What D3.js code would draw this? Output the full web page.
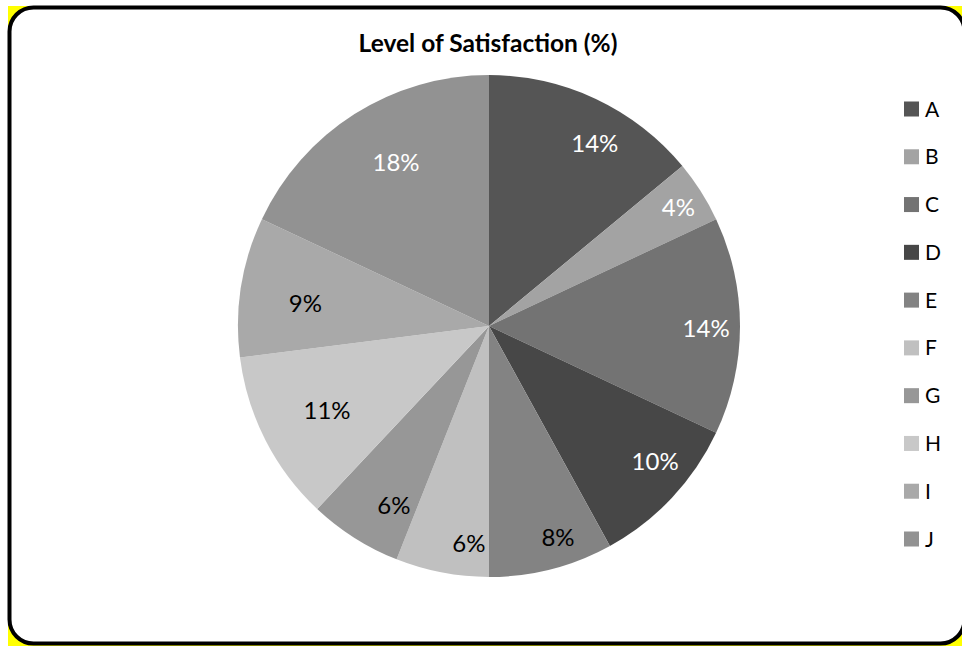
<!DOCTYPE html>
<html>
<head>
<meta charset="utf-8">
<script src="https://cdn.jsdelivr.net/npm/d3@7"></script>
<style>
  html, body { margin: 0; padding: 0; background: #ffffff; }
  svg { display: block; }
</style>
</head>
<body>
<svg id="chart" width="962" height="646"></svg>
<script>
// Satisfaction shares per category
const categories = ["A", "B", "C", "D", "E", "F", "G", "H", "I", "J"];
const values = [14, 4, 14, 10, 8, 6, 6, 11, 9, 18];
const title = "Level of Satisfaction (%)";

// Slice fills and label ink
const fills = ["#555555", "#a3a3a3", "#737373", "#474747", "#838383",
               "#c0c0c0", "#979797", "#c8c8c8", "#a9a9a9", "#929292"];
const labelInk = ["#ffffff", "#ffffff", "#ffffff", "#ffffff", "#000000",
                  "#000000", "#000000", "#000000", "#000000", "#ffffff"];

// Label placement: fraction of the radius and angular nudge (degrees)
const labelRadius = [0.84, 0.89, 0.865, 0.853, 0.885, 0.87, 0.81, 0.727, 0.737, 0.75];
const labelShift = [4.9, 0.4, 0.5, -4.1, -3.7, -5.5, -4.5, -0.4, -1.9, 2.8];

const W = 962, H = 646;
const svg = d3.select("#chart");

// Yellow backing sheet, then the rounded card with a black frame
svg.append("rect")
  .attr("x", 8).attr("y", 6)
  .attr("width", W).attr("height", H)
  .attr("fill", "#ffff00");

svg.append("rect")
  .attr("x", 9.5).attr("y", 7.5)
  .attr("width", 955).attr("height", 636)
  .attr("rx", 24).attr("ry", 24)
  .attr("fill", "#ffffff")
  .attr("stroke", "#000000")
  .attr("stroke-width", 4);

svg.append("text")
  .attr("x", 488).attr("y", 52)
  .attr("text-anchor", "middle")
  .attr("font-family", "Lato, 'Open Sans', sans-serif")
  .attr("font-weight", "bold")
  .attr("font-size", 24.5)
  .attr("fill", "#000")
  .text(title);

const cx = 489, cy = 326, R = 251;
const data = categories.map((c, i) => ({ cat: c, value: values[i], i }));

const pie = d3.pie().value(d => d.value).sort(null);
const arcs = pie(data);
const arc = d3.arc().innerRadius(0).outerRadius(R);

const g = svg.append("g").attr("transform", `translate(${cx},${cy})`);

g.selectAll("path.slice")
  .data(arcs)
  .join("path")
  .attr("class", "slice")
  .attr("d", arc)
  .attr("fill", d => fills[d.data.i]);

const total = d3.sum(values);
g.selectAll("text.lbl")
  .data(arcs)
  .join("text")
  .attr("class", "lbl")
  .attr("transform", d => {
    const i = d.data.i;
    const a = (d.startAngle + d.endAngle) / 2 + labelShift[i] * Math.PI / 180;
    const r = R * labelRadius[i];
    return `translate(${r * Math.sin(a)},${-r * Math.cos(a)})`;
  })
  .attr("text-anchor", "middle")
  .attr("dy", "0.36em")
  .attr("font-family", "Lato, 'Open Sans', sans-serif")
  .attr("font-size", 24)
  .attr("fill", d => labelInk[d.data.i])
  .text(d => Math.round(d.data.value / total * 100) + "%");

// Legend
const legendY = d3.scalePoint().domain(categories).range([109, 539]);
const lg = svg.append("g");
const item = lg.selectAll("g.item")
  .data(data)
  .join("g")
  .attr("class", "item")
  .attr("transform", d => `translate(904,${legendY(d.cat)})`);
item.append("rect")
  .attr("x", 0).attr("y", -7.5)
  .attr("width", 15).attr("height", 15)
  .attr("fill", d => fills[d.i]);
item.append("text")
  .attr("x", 21).attr("dy", "0.36em")
  .attr("font-family", "Lato, 'Open Sans', sans-serif")
  .attr("font-size", 21)
  .attr("fill", "#000")
  .text(d => d.cat);
</script>
</body>
</html>
